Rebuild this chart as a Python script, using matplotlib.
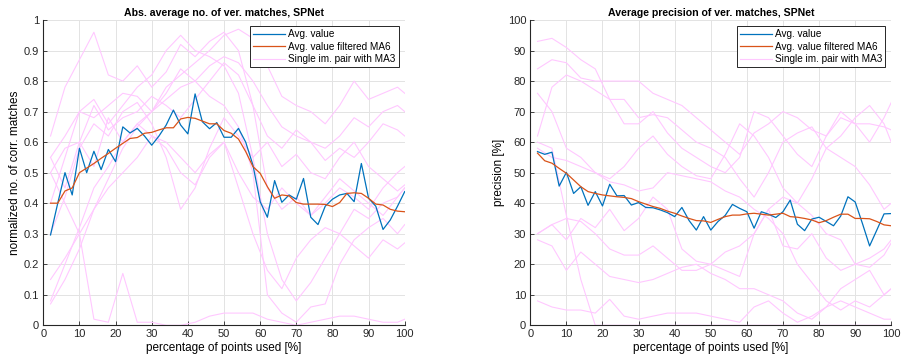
import numpy as np
import matplotlib
matplotlib.use("Agg")
import matplotlib.pyplot as plt

plt.rcParams['font.family'] = ['Liberation Sans', 'DejaVu Sans']

# percentage of points used
x_avg = np.arange(2, 101, 2)
x_pair = [2, 6, 10, 14, 18, 22, 26, 30, 34, 38, 42, 46, 50,
          54, 58, 62, 66, 70, 74, 78, 82, 86, 90, 94, 98, 100]

# normalized number of verified matches
matches_avg = [0.296, 0.40, 0.50, 0.427, 0.58, 0.50, 0.57, 0.51, 0.576, 0.536,
               0.65, 0.63, 0.645, 0.62, 0.59, 0.62, 0.656, 0.705, 0.656, 0.627,
               0.758, 0.667, 0.644, 0.664, 0.616, 0.616, 0.645, 0.60, 0.525, 0.405,
               0.354, 0.474, 0.403, 0.427, 0.413, 0.481, 0.354, 0.33, 0.39, 0.413,
               0.427, 0.432, 0.405, 0.53, 0.416, 0.39, 0.314, 0.345, 0.39, 0.438]
matches_ma6 = [0.40, 0.40, 0.44, 0.45, 0.50, 0.515, 0.53, 0.547, 0.563, 0.58,
               0.596, 0.612, 0.615, 0.629, 0.632, 0.64, 0.647, 0.647, 0.676, 0.681,
               0.678, 0.669, 0.66, 0.66, 0.638, 0.629, 0.61, 0.569, 0.52, 0.498,
               0.454, 0.416, 0.427, 0.424, 0.402, 0.397, 0.397, 0.397, 0.396, 0.389,
               0.402, 0.432, 0.434, 0.432, 0.416, 0.397, 0.394, 0.38, 0.374, 0.372]
matches_pairs = [
    [0.62, 0.78, 0.87, 0.96, 0.82, 0.80, 0.85, 0.78, 0.83, 0.92, 0.88, 0.93, 0.96,
     0.90, 0.72, 0.45, 0.38, 0.42, 0.36, 0.40, 0.45, 0.42, 0.38, 0.45, 0.50, 0.52],
    [0.55, 0.62, 0.70, 0.68, 0.72, 0.76, 0.75, 0.70, 0.78, 0.82, 0.86, 0.90, 0.95,
     0.97, 0.94, 0.85, 0.75, 0.72, 0.70, 0.66, 0.72, 0.80, 0.74, 0.76, 0.78, 0.76],
    [0.08, 0.20, 0.32, 0.45, 0.52, 0.60, 0.66, 0.70, 0.74, 0.78, 0.80, 0.85, 0.88,
     0.86, 0.80, 0.72, 0.65, 0.62, 0.60, 0.58, 0.62, 0.68, 0.65, 0.70, 0.72, 0.70],
    [0.07, 0.15, 0.25, 0.38, 0.48, 0.58, 0.65, 0.70, 0.76, 0.84, 0.80, 0.75, 0.72,
     0.65, 0.50, 0.10, 0.04, 0.01, 0.06, 0.07, 0.20, 0.28, 0.32, 0.35, 0.30, 0.33],
    [0.50, 0.40, 0.30, 0.02, 0.01, 0.17, 0.01, 0.01, 0.00, 0.00, 0.01, 0.03, 0.04,
     0.04, 0.04, 0.02, 0.01, 0.00, 0.01, 0.02, 0.03, 0.03, 0.02, 0.01, 0.01, 0.02],
    [0.55, 0.45, 0.60, 0.52, 0.68, 0.60, 0.66, 0.62, 0.58, 0.50, 0.46, 0.55, 0.60,
     0.50, 0.42, 0.38, 0.45, 0.40, 0.36, 0.42, 0.48, 0.44, 0.40, 0.36, 0.42, 0.45],
    [0.30, 0.42, 0.58, 0.66, 0.62, 0.70, 0.73, 0.66, 0.55, 0.38, 0.45, 0.58, 0.68,
     0.62, 0.55, 0.60, 0.52, 0.56, 0.50, 0.48, 0.55, 0.60, 0.52, 0.48, 0.44, 0.46],
    [0.15, 0.22, 0.30, 0.38, 0.45, 0.50, 0.55, 0.62, 0.60, 0.55, 0.50, 0.56, 0.60,
     0.45, 0.30, 0.18, 0.12, 0.22, 0.28, 0.32, 0.30, 0.26, 0.22, 0.28, 0.25, 0.27],
    [0.40, 0.55, 0.70, 0.74, 0.66, 0.72, 0.78, 0.82, 0.90, 0.95, 0.90, 0.88, 0.85,
     0.76, 0.55, 0.30, 0.15, 0.08, 0.14, 0.22, 0.30, 0.38, 0.35, 0.40, 0.42, 0.45],
    [0.50, 0.58, 0.60, 0.72, 0.64, 0.68, 0.70, 0.75, 0.72, 0.68, 0.74, 0.80, 0.86,
     0.82, 0.72, 0.62, 0.58, 0.64, 0.60, 0.54, 0.58, 0.55, 0.60, 0.66, 0.64, 0.62],
]

# precision of verified matches [%]
precision_avg = [56.9, 56.0, 56.7, 45.6, 50.1, 43.2, 45.4, 39.3, 43.8, 39.1,
                 46.2, 42.4, 42.5, 39.4, 40.2, 38.6, 38.5, 37.8, 36.9, 35.6,
                 38.6, 34.3, 31.2, 35.6, 31.2, 34.0, 36.0, 39.6, 38.3, 37.2,
                 31.8, 37.2, 36.4, 35.3, 37.2, 41.0, 33.1, 31.0, 34.8, 35.4,
                 34.0, 32.6, 35.8, 42.1, 40.4, 33.4, 26.0, 31.2, 36.5, 36.6]
precision_ma6 = [56.4, 53.9, 53.1, 51.4, 49.8, 47.6, 45.4, 43.8, 43.2, 42.7,
                 42.4, 42.1, 41.9, 41.5, 40.5, 39.7, 38.9, 38.3, 37.4, 36.7,
                 35.8, 35.0, 34.3, 34.2, 33.7, 34.7, 35.6, 36.1, 36.1, 36.5,
                 36.7, 36.4, 36.1, 36.4, 36.7, 35.6, 35.4, 35.0, 34.5, 33.6,
                 34.3, 35.4, 36.4, 36.4, 35.0, 35.0, 34.9, 34.0, 32.9, 32.6]
precision_pairs = [
    [93, 94, 91, 87, 84, 74, 66, 66, 70, 63, 58, 55, 52,
     50, 55, 70, 68, 62, 56, 52, 62, 68, 66, 60, 68, 73],
    [84, 87, 86, 81, 80, 80, 80, 80, 76, 74, 72, 68, 64,
     60, 56, 63, 66, 70, 68, 64, 62, 70, 66, 66, 65, 64],
    [76, 70, 58, 55, 50, 48, 52, 58, 62, 56, 52, 49, 48,
     56, 66, 62, 55, 45, 40, 48, 58, 62, 68, 72, 66, 60],
    [62, 78, 82, 80, 77, 74, 74, 68, 69, 68, 64, 60, 58,
     55, 48, 42, 50, 60, 63, 65, 58, 55, 52, 46, 38, 40],
    [30, 33, 35, 34, 30, 25, 23, 23, 26, 22, 18, 18, 20,
     24, 26, 30, 38, 42, 40, 36, 30, 28, 20, 22, 25, 28],
    [28, 26, 18, 24, 20, 16, 15, 14, 15, 17, 19, 20, 17,
     15, 12, 12, 10, 8, 4, 2, 6, 12, 15, 18, 10, 12],
    [8, 6, 5, 5, 4, 8.5, 3, 2, 3, 4, 4, 4, 3,
     2, 1, 6, 8, 4, 1, 3, 6, 8, 6, 4, 2, 2],
    [60, 58, 36, 15, 0, 0, 0, 0, 0, 0, 0, 0, 0,
     0, 0, 0, 0, 0, 0, 0, 0, 0, 0, 0, 0, 0],
    [58, 55, 54, 52, 50, 47, 46, 44, 45, 50, 49, 48, 47,
     44, 42, 38, 35, 30, 20, 14, 8, 5, 8, 6, 10, 12],
    [30, 33, 28, 35, 32, 38, 31, 35, 42, 38, 25, 21, 20,
     18, 16, 30, 38, 26, 25, 30, 22, 18, 20, 19, 23, 27],
]

BLUE = '#0072BD'
ORANGE = '#D95319'
PINK = '#FFC8FF'
FS_TICK = 8
FS_LABEL = 8.5
FS_LEG = 7.2
FS_TITLE = 7.6

fig = plt.figure(figsize=(9.02, 3.64), dpi=100)
ax_l = fig.add_axes([0.048, 0.1063, 0.4007, 0.8387])
ax_r = fig.add_axes([0.5879, 0.1063, 0.4002, 0.8387])


def draw(ax, avg, ma6, pairs, title, ylabel, ymax, yticks, yticklabels):
    for k, p in enumerate(pairs):
        ax.plot(x_pair, p, color=PINK, lw=0.8, zorder=1,
                label='Single im. pair with MA3' if k == 0 else None)
    ax.plot(x_avg, avg, color=BLUE, lw=0.9, zorder=3, label='Avg. value')
    ax.plot(x_avg, ma6, color=ORANGE, lw=0.9, zorder=4,
            label='Avg. value filtered MA6')
    ax.set_xlim(0, 100)
    ax.set_ylim(0, ymax)
    ax.set_xticks(np.arange(0, 101, 10))
    ax.set_yticks(yticks)
    ax.set_yticklabels(yticklabels)
    ax.grid(True, color='#E3E3E3', lw=0.7, zorder=0)
    ax.set_axisbelow(True)
    for s in ('top', 'right'):
        ax.spines[s].set_visible(False)
    for s in ('left', 'bottom'):
        ax.spines[s].set_color('#262626')
        ax.spines[s].set_linewidth(0.8)
    ax.tick_params(direction='in', length=3, width=0.6, labelsize=FS_TICK,
                   colors='#262626', pad=3)
    ax.set_title(title, fontsize=FS_TITLE, fontweight='bold', pad=3)
    ax.set_xlabel('percentage of points used [%]', fontsize=FS_LABEL,
                  labelpad=2)
    ax.set_ylabel(ylabel, fontsize=FS_LABEL, labelpad=2)
    h, l = ax.get_legend_handles_labels()
    order = [l.index('Avg. value'), l.index('Avg. value filtered MA6'),
             l.index('Single im. pair with MA3')]
    leg = ax.legend([h[i] for i in order], [l[i] for i in order],
                    loc='upper right', fontsize=FS_LEG, fancybox=False,
                    framealpha=1, edgecolor='#262626', handlelength=3.2,
                    handletextpad=0.3, borderpad=0.3, labelspacing=0.25,
                    borderaxespad=0.6)
    leg.get_frame().set_linewidth(0.7)


ytl_l = ['0'] + [f'{v:.1f}' for v in np.arange(0.1, 1.0, 0.1)] + ['1']
draw(ax_l, matches_avg, matches_ma6, matches_pairs,
     'Abs. average no. of ver. matches, SPNet',
     'normalized no. of corr. matches', 1.0,
     np.linspace(0, 1, 11), ytl_l)
draw(ax_r, precision_avg, precision_ma6, precision_pairs,
     'Average precision of ver. matches, SPNet',
     'precision [%]', 100,
     np.arange(0, 101, 10), [str(v) for v in range(0, 101, 10)])

fig.savefig('out.png', dpi=100)
